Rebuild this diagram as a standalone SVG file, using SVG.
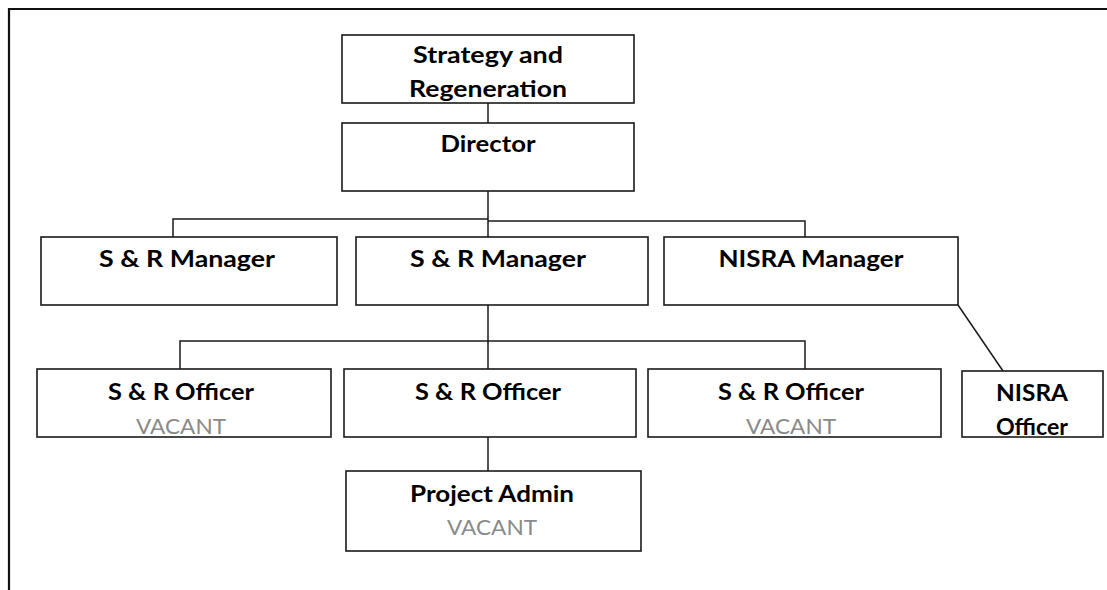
<svg xmlns="http://www.w3.org/2000/svg" width="1107" height="590" viewBox="0 0 1107 590">
  <style>
    .box { fill: #ffffff; stroke: #1a1a1a; stroke-width: 1.6; }
    .link { fill: none; stroke: #1a1a1a; stroke-width: 1.5; }
    .t { font-family: Lato, "Liberation Sans", sans-serif; font-weight: bold; font-size: 22px; fill: #000000; text-anchor: middle; }
    .v { font-family: Lato, "Liberation Sans", sans-serif; font-weight: normal; font-size: 22px; fill: #8a8a8a; text-anchor: middle; }
  </style>
  <rect width="1107" height="590" fill="#ffffff"/>
  <!-- page frame -->
  <path d="M9,600 V9 H1120" fill="none" stroke="#111111" stroke-width="2.2"/>

  <g id="connectors">
    <path class="link" d="M488,103 V123"/>
    <path class="link" d="M488,191 V237"/>
    <path class="link" d="M488,219 H173 V237"/>
    <path class="link" d="M488,221 H805 V237"/>
    <path class="link" d="M488,305 V369"/>
    <path class="link" d="M180,369 V341 H805 V369"/>
    <path class="link" d="M488,437 V471"/>
    <path class="link" d="M958,305 L1003,371"/>
  </g>

  <g id="strategy">
    <rect class="box" x="342" y="35" width="292" height="68"/>
    <text class="t" x="488" y="63" textLength="150" lengthAdjust="spacingAndGlyphs">Strategy and</text>
    <text class="t" x="488" y="97" textLength="158" lengthAdjust="spacingAndGlyphs">Regeneration</text>
  </g>
  <g id="director">
    <rect class="box" x="342" y="123" width="292" height="68"/>
    <text class="t" x="488" y="152" textLength="95" lengthAdjust="spacingAndGlyphs">Director</text>
  </g>

  <g id="sr-manager-1">
    <rect class="box" x="41" y="237" width="296" height="68"/>
    <text class="t" x="187" y="267" textLength="176" lengthAdjust="spacingAndGlyphs">S &amp; R Manager</text>
  </g>
  <g id="sr-manager-2">
    <rect class="box" x="356" y="237" width="292" height="68"/>
    <text class="t" x="498" y="267" textLength="176" lengthAdjust="spacingAndGlyphs">S &amp; R Manager</text>
  </g>
  <g id="nisra-manager">
    <rect class="box" x="664" y="237" width="294" height="68"/>
    <text class="t" x="811" y="267" textLength="185" lengthAdjust="spacingAndGlyphs">NISRA Manager</text>
  </g>

  <g id="sr-officer-1">
    <rect class="box" x="37" y="369" width="294" height="68"/>
    <text class="t" x="181" y="400" textLength="146" lengthAdjust="spacingAndGlyphs">S &amp; R Officer</text>
    <text class="v" x="181" y="434" textLength="90" lengthAdjust="spacingAndGlyphs">VACANT</text>
  </g>
  <g id="sr-officer-2">
    <rect class="box" x="344" y="369" width="292" height="68"/>
    <text class="t" x="488" y="400" textLength="146" lengthAdjust="spacingAndGlyphs">S &amp; R Officer</text>
  </g>
  <g id="sr-officer-3">
    <rect class="box" x="648" y="369" width="293" height="68"/>
    <text class="t" x="791" y="400" textLength="146" lengthAdjust="spacingAndGlyphs">S &amp; R Officer</text>
    <text class="v" x="791" y="434" textLength="90" lengthAdjust="spacingAndGlyphs">VACANT</text>
  </g>
  <g id="nisra-officer">
    <rect class="box" x="962" y="371" width="141" height="66"/>
    <text class="t" x="1032" y="401" textLength="72" lengthAdjust="spacingAndGlyphs">NISRA</text>
    <text class="t" x="1032" y="435" textLength="72" lengthAdjust="spacingAndGlyphs">Officer</text>
  </g>

  <g id="project-admin">
    <rect class="box" x="346" y="471" width="295" height="80"/>
    <text class="t" x="492" y="502" textLength="164" lengthAdjust="spacingAndGlyphs">Project Admin</text>
    <text class="v" x="492" y="535" textLength="90" lengthAdjust="spacingAndGlyphs">VACANT</text>
  </g>
</svg>
